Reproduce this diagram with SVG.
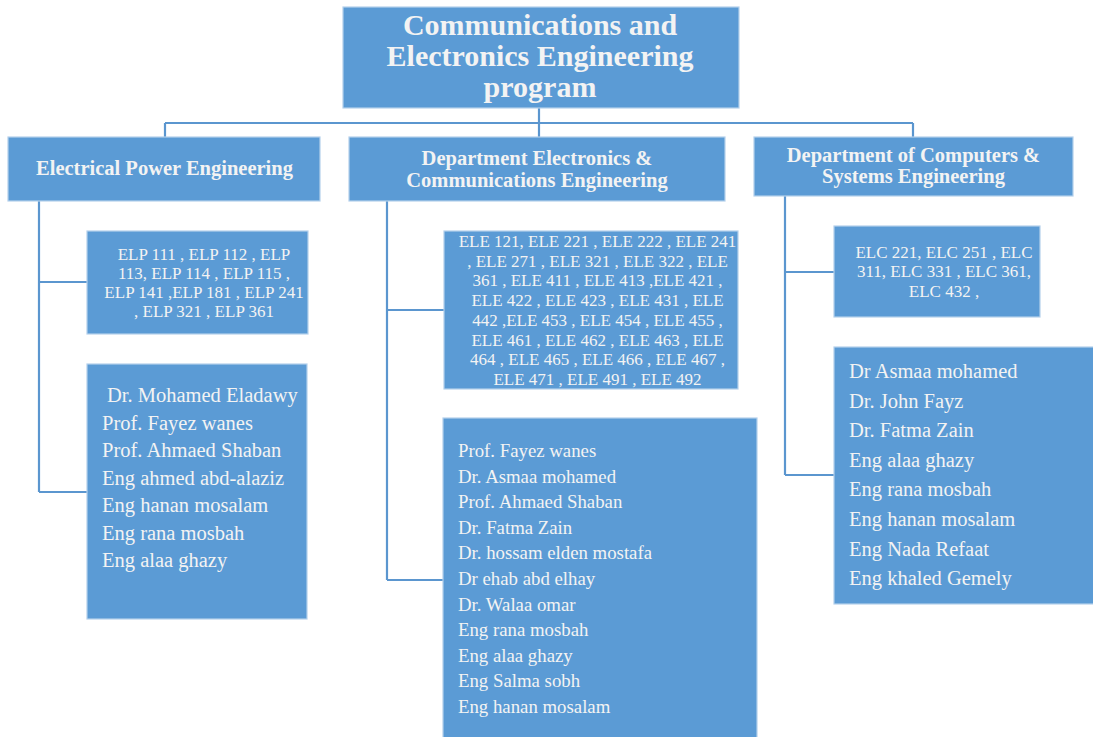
<svg xmlns="http://www.w3.org/2000/svg" width="1093" height="737" viewBox="0 0 1093 737">
<style>
.box{fill:#5b9bd5;stroke:#b4d0ec;stroke-width:1.2}
.ln{stroke:#5b96cf;stroke-width:2.2;fill:none}
.t{font-family:"Liberation Serif","Times New Roman",serif;fill:#f3f3f3}
.b{font-weight:bold}
.c{text-anchor:middle}
</style>
<rect width="1093" height="737" fill="#ffffff"/>
<g id="connectors">
<path class="ln" d="M539 108V137M165 123H913M165 123V137M913 123V137"/>
<path class="ln" d="M39 201V492M39 282H87M39 492H87"/>
<path class="ln" d="M387 201V580M387 310H444M387 580H443"/>
<path class="ln" d="M785 196V475M785 272H834M785 475H834"/>
</g>
<g id="root">
<rect class="box" x="343" y="7" width="396" height="101"/>
<text class="t b c" font-size="30" x="540" y="35">Communications and</text>
<text class="t b c" font-size="30" x="540" y="66">Electronics Engineering</text>
<text class="t b c" font-size="30" x="540" y="97">program</text>
</g>
<g id="dept-power">
<rect class="box" x="8" y="137" width="312" height="64"/>
<text class="t b c" font-size="20.5" x="164.5" y="175">Electrical Power Engineering</text>
</g>
<g id="dept-electronics">
<rect class="box" x="349" y="137" width="376" height="64"/>
<text class="t b c" font-size="20.5" x="537" y="165">Department Electronics &amp;</text>
<text class="t b c" font-size="20.5" x="537" y="187">Communications Engineering</text>
</g>
<g id="dept-computers">
<rect class="box" x="754" y="137" width="319" height="59"/>
<text class="t b c" font-size="20.5" x="913.5" y="162">Department of Computers &amp;</text>
<text class="t b c" font-size="20.5" x="913.5" y="183">Systems Engineering</text>
</g>
<g id="courses-power">
<rect class="box" x="87" y="231" width="221" height="103"/>
<g class="t c" font-size="17">
<text x="204" y="260">ELP 111 , ELP 112 , ELP</text>
<text x="204" y="279">113, ELP 114 , ELP 115 ,</text>
<text x="204" y="298">ELP 141 ,ELP 181 , ELP 241</text>
<text x="204" y="317">, ELP 321 , ELP 361</text>
</g>
</g>
<g id="courses-electronics">
<rect class="box" x="444" y="231" width="294" height="158"/>
<g class="t c" font-size="17">
<text x="597.5" y="247">ELE 121, ELE 221 , ELE 222 , ELE 241</text>
<text x="597.5" y="266.7">, ELE 271 , ELE 321 , ELE 322 , ELE</text>
<text x="597.5" y="286.4">361 , ELE 411 , ELE 413 ,ELE 421 ,</text>
<text x="597.5" y="306.1">ELE 422 , ELE 423 ,  ELE 431 , ELE</text>
<text x="597.5" y="325.8">442 ,ELE 453 , ELE 454 , ELE 455 ,</text>
<text x="597.5" y="345.5">ELE 461 , ELE 462 , ELE 463 , ELE</text>
<text x="597.5" y="365.2">464 , ELE 465 , ELE 466 , ELE 467 ,</text>
<text x="597.5" y="385">ELE 471 , ELE 491 , ELE 492</text>
</g>
</g>
<g id="courses-computers">
<rect class="box" x="834" y="226" width="206" height="91"/>
<g class="t c" font-size="17">
<text x="944" y="258">ELC 221, ELC 251 , ELC</text>
<text x="944" y="277">311, ELC 331 , ELC 361,</text>
<text x="944" y="297">ELC 432 ,</text>
</g>
</g>
<g id="staff-power">
<rect class="box" x="87" y="364" width="220" height="255"/>
<g class="t" font-size="20.5">
<text x="107" y="402">Dr. Mohamed Eladawy</text>
<text x="102" y="429.5">Prof. Fayez wanes</text>
<text x="102" y="457">Prof. Ahmaed Shaban</text>
<text x="102" y="484.5">Eng ahmed abd-alaziz</text>
<text x="102" y="512">Eng hanan mosalam</text>
<text x="102" y="539.5">Eng rana mosbah</text>
<text x="102" y="567">Eng alaa ghazy</text>
</g>
</g>
<g id="staff-electronics">
<rect class="box" x="443" y="418" width="314" height="330"/>
<g class="t" font-size="18.8">
<text x="458" y="457">Prof. Fayez wanes</text>
<text x="458" y="482.6">Dr. Asmaa mohamed</text>
<text x="458" y="508.2">Prof. Ahmaed Shaban</text>
<text x="458" y="533.8">Dr. Fatma Zain</text>
<text x="458" y="559.4">Dr. hossam elden mostafa</text>
<text x="458" y="585">Dr ehab abd elhay</text>
<text x="458" y="610.6">Dr. Walaa omar</text>
<text x="458" y="636.2">Eng rana mosbah</text>
<text x="458" y="661.8">Eng alaa ghazy</text>
<text x="458" y="687.4">Eng Salma sobh</text>
<text x="458" y="713">Eng hanan mosalam</text>
</g>
</g>
<g id="staff-computers">
<rect class="box" x="834" y="347" width="270" height="257"/>
<g class="t" font-size="20.5">
<text x="849" y="378">Dr Asmaa mohamed</text>
<text x="849" y="407.6">Dr. John Fayz</text>
<text x="849" y="437.2">Dr. Fatma Zain</text>
<text x="849" y="466.8">Eng alaa ghazy</text>
<text x="849" y="496.4">Eng rana mosbah</text>
<text x="849" y="526">Eng hanan mosalam</text>
<text x="849" y="555.6">Eng Nada Refaat</text>
<text x="849" y="585.2">Eng khaled Gemely</text>
</g>
</g>
</svg>
